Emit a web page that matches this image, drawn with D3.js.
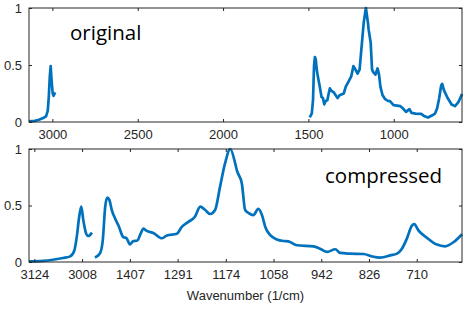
<!DOCTYPE html>
<html>
<head>
<meta charset="utf-8">
<script src="https://cdn.jsdelivr.net/npm/d3@7"></script>
<style>
  body { margin: 0; background: #fff; }
  svg { display: block; }
  .tick text { font-family: "Liberation Sans", Arial, sans-serif; font-size: 13px; fill: #262626; }
  .tick line { stroke: #262626; }
</style>
</head>
<body>
<svg id="chart" width="468" height="310"></svg>
<script>
// C-H stretch region (high wavenumbers)
const wnA = [3137, 3103, 3079, 3054, 3037, 3027, 3021, 3015, 3010, 3005, 2998, 2993, 2984];
const absA = [0.005, 0.01, 0.02, 0.035, 0.05, 0.10, 0.22, 0.40, 0.49, 0.37, 0.25, 0.23, 0.26];

// fingerprint region
const wnB = [1492, 1480, 1473, 1467, 1462, 1457, 1451, 1443, 1435, 1423,
             1415, 1407, 1399, 1389, 1381, 1374, 1366, 1350, 1329, 1317,
             1293, 1281, 1265, 1249, 1236, 1224, 1212, 1200, 1188, 1176,
             1163, 1151, 1147, 1135, 1127, 1119, 1107, 1095, 1086, 1078,
             1066, 1050, 1034, 1022, 1001, 961, 945, 928, 908, 896,
             872, 839, 819, 799, 774, 758, 746, 734, 722, 716,
             706, 685, 661, 641, 620, 600];
const absB = [0.04, 0.075, 0.19, 0.49, 0.57, 0.55, 0.46, 0.385, 0.325, 0.22,
              0.21, 0.155, 0.185, 0.19, 0.25, 0.295, 0.275, 0.257, 0.21, 0.235,
              0.25, 0.31, 0.355, 0.40, 0.49, 0.46, 0.425, 0.46, 0.665, 0.87,
              1.0, 0.87, 0.81, 0.695, 0.46, 0.435, 0.415, 0.47, 0.415, 0.31,
              0.237, 0.2, 0.186, 0.183, 0.148, 0.139, 0.118, 0.089, 0.113, 0.08,
              0.074, 0.071, 0.05, 0.039, 0.059, 0.074, 0.118, 0.207, 0.32, 0.335,
              0.28, 0.213, 0.154, 0.139, 0.177, 0.246];

const topTicks = [3000, 2500, 2000, 1500, 1000];
const bottomTicks = [3124, 3008, 1407, 1291, 1174, 1058, 942, 826, 710];
const yTicks = [0, 0.5, 1];
const wnRange = [3137, 600];

const segments = [
  wnA.map((w, i) => ({ wn: w, a: absA[i] })),
  wnB.map((w, i) => ({ wn: w, a: absB[i] }))
];

// position on the compressed axis (gap between regions removed)
function compress(w) {
  return w > 2000 ? (3124 - w) / 116.1 : 2 + (1407 - w) / 116.1;
}

const svg = d3.select("#chart");
const left = 29, right = 462;
const blue = "#0072BD";

const panels = [
  { top: 8, bottom: 122, label: "original", lx: 70, ly: 40, curve: d3.curveLinear,
    x: d3.scaleLinear().domain(wnRange).range([left, right]),
    pos: w => w, ticks: topTicks, fmt: d => d },
  { top: 149, bottom: 262, label: "compressed", lx: 325, ly: 183, curve: d3.curveMonotoneX,
    x: d3.scaleLinear().domain(wnRange.map(compress)).range([left, right]),
    pos: compress, ticks: bottomTicks.map(compress), fmt: (d, i) => bottomTicks[i] }
];

panels.forEach(p => {
  const y = d3.scaleLinear().domain([0, 1]).range([p.bottom, p.top]);
  const g = svg.append("g");

  const line = d3.line().x(d => p.x(p.pos(d.wn))).y(d => y(d.a)).curve(p.curve);
  segments.forEach(seg => {
    g.append("path").datum(seg)
      .attr("fill", "none").attr("stroke", blue)
      .attr("stroke-width", 2.7).attr("stroke-linejoin", "round")
      .attr("d", line);
  });

  g.append("g").attr("transform", `translate(0,${p.bottom})`)
    .call(d3.axisBottom(p.x).tickValues(p.ticks).tickFormat(p.fmt).tickSizeInner(-3).tickSizeOuter(0).tickPadding(8))
    .call(a => a.select(".domain").remove());
  g.append("g").attr("transform", `translate(0,${p.top})`)
    .call(d3.axisTop(p.x).tickValues(p.ticks).tickFormat("").tickSizeInner(-3).tickSizeOuter(0))
    .call(a => a.select(".domain").remove());
  g.append("g").attr("transform", `translate(${left},0)`)
    .call(d3.axisLeft(y).tickValues(yTicks).tickFormat(d3.format("")).tickSizeInner(-3).tickSizeOuter(0).tickPadding(7))
    .call(a => a.select(".domain").remove());
  g.append("g").attr("transform", `translate(${right},0)`)
    .call(d3.axisRight(y).tickValues(yTicks).tickFormat("").tickSizeInner(-3).tickSizeOuter(0))
    .call(a => a.select(".domain").remove());

  g.append("rect").attr("x", left).attr("y", p.top)
    .attr("width", right - left).attr("height", p.bottom - p.top)
    .attr("fill", "none").attr("stroke", "#262626").attr("stroke-width", 1);

  g.append("text").attr("x", p.lx).attr("y", p.ly)
    .attr("font-family", "'Open Sans', sans-serif").attr("font-size", 20.5)
    .attr("fill", "#000").text(p.label);
});

svg.append("text").attr("x", (left + right) / 2).attr("y", 300)
  .attr("text-anchor", "middle")
  .attr("font-family", "'Liberation Sans', Arial, sans-serif").attr("font-size", 13)
  .attr("fill", "#262626").text("Wavenumber (1/cm)");
</script>
</body>
</html>
